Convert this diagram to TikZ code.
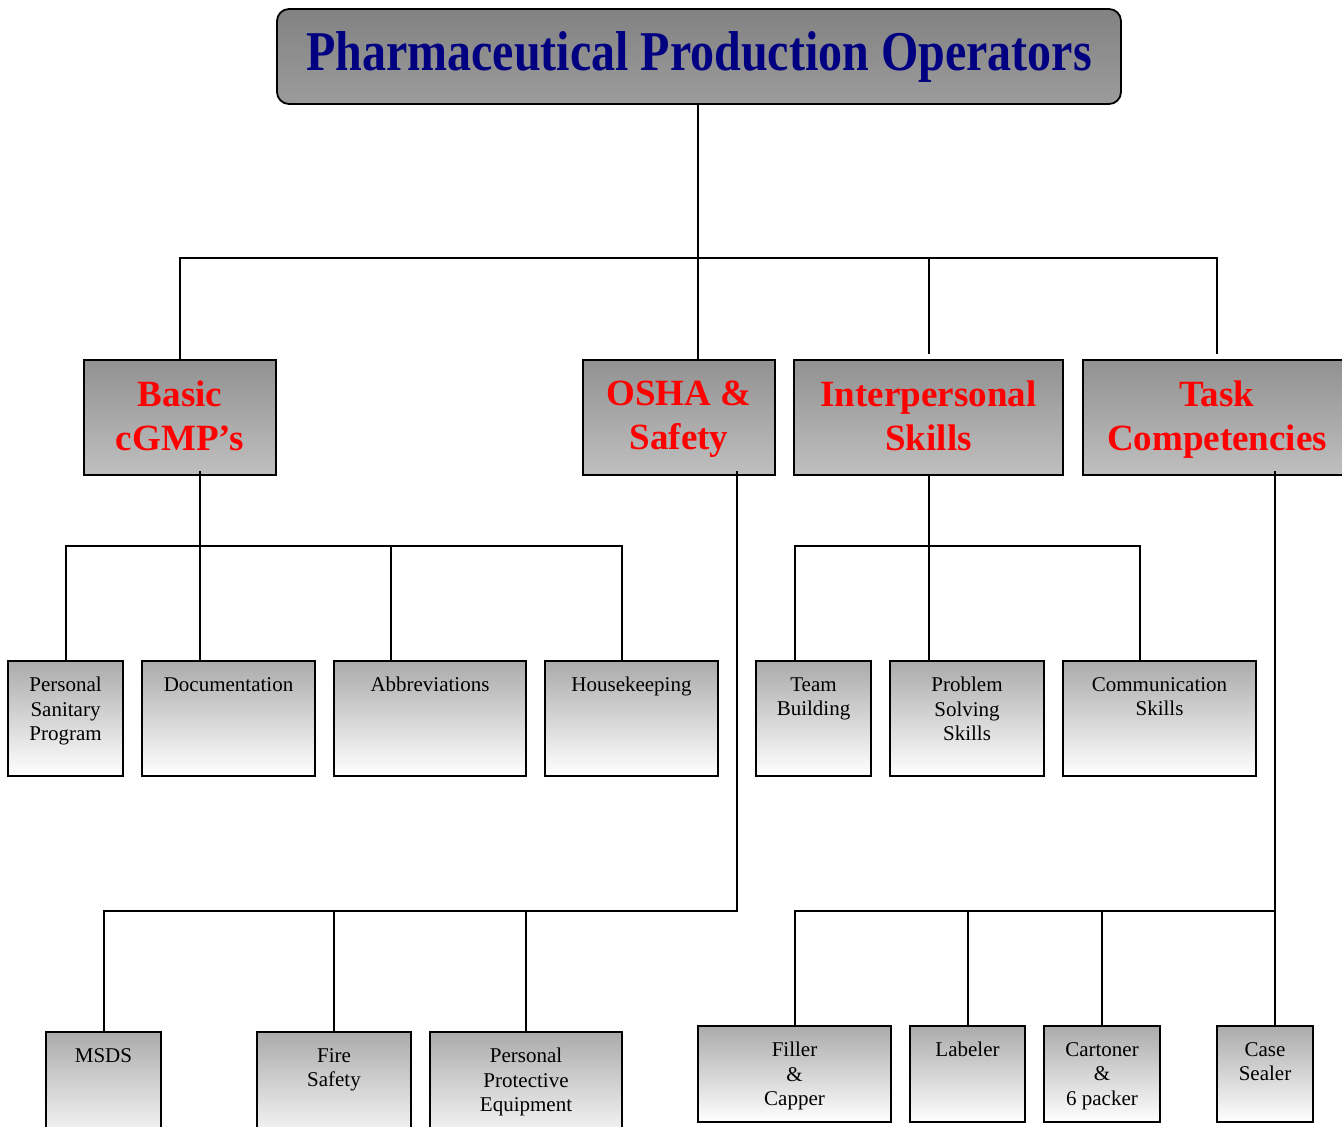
\documentclass[tikz,border=0pt]{standalone}
\usepackage{graphicx}
\usepackage{fontspec}
\setmainfont{Liberation Serif}
\usetikzlibrary{positioning}

\definecolor{titleblue}{RGB}{0,0,128}

\tikzset{
	conn/.style={line width=2pt},
	titlebox/.style={draw, line width=1.8pt, rounded corners=12pt,
		top color=black!49, bottom color=black!39,
		minimum width=844pt, minimum height=95pt, inner sep=0pt,
		text=titleblue, font=\bfseries\fontsize{48}{56}\selectfont},
	groupbox/.style={draw, line width=1.8pt,
		top color=black!43, bottom color=black!25,
		minimum height=115pt, inner sep=0pt},
	grouptext/.style={anchor=north, yshift=-22pt, inner sep=0pt, align=center,
		text=red, font=\bfseries\fontsize{37}{44}\selectfont},
	leafbox/.style={draw, line width=1.8pt,
		top color=black!33, bottom color=white, inner sep=0pt},
	leaftext/.style={anchor=north, yshift=-17pt, inner sep=0pt, align=center,
		font=\fontsize{21}{24.5}\selectfont}
}

\begin{document}
\begin{tikzpicture}[x=1pt,y=-1pt]
	\clip (0,0) rectangle (1342,1127);

	% title
	\node (title) [titlebox] at (699,56.5) {\scalebox{1}[1.17]{Pharmaceutical Production Operators}};

	% groups
	\node (basic) [groupbox, minimum width=192pt] at ( 180  ,417.5) {};
	\node (osha)  [groupbox, minimum width=192pt] at ( 679  ,417.5) {};
	\node (inter) [groupbox, minimum width=269pt] at ( 928.5,417.5) {};
	\node (task)  [groupbox, minimum width=268pt] at (1217  ,417.5) {};

	\node (basic-t) [grouptext] at (basic.north) {Basic\\cGMP’s};
	\node (osha-t)  [grouptext] at (osha.north)  {OSHA \&\\Safety};
	\node (inter-t) [grouptext] at (inter.north) {Interpersonal\\Skills};
	\node (task-t)  [grouptext] at (task.north)  {Task\\Competencies};

	% leaves under basic and interpersonal
	\node (psp)   [leafbox, minimum width=115pt, minimum height=115pt] at (  65.5,718.5) {};
	\node (doc)   [leafbox, minimum width=173pt, minimum height=115pt] at ( 228.5,718.5) {};
	\node (abbr)  [leafbox, minimum width=192pt, minimum height=115pt] at ( 430  ,718.5) {};
	\node (house) [leafbox, minimum width=173pt, minimum height=115pt] at ( 631.5,718.5) {};
	\node (team)  [leafbox, minimum width=115pt, minimum height=115pt] at ( 813.5,718.5) {};
	\node (prob)  [leafbox, minimum width=154pt, minimum height=115pt] at ( 967  ,718.5) {};
	\node (comm)  [leafbox, minimum width=193pt, minimum height=115pt] at (1159.5,718.5) {};

	% leaves under osha
	\node (msds)  [leafbox, minimum width=115pt, minimum height=115pt] at ( 103.5,1089.5) {};
	\node (fire)  [leafbox, minimum width=154pt, minimum height=115pt] at ( 334  ,1089.5) {};
	\node (ppe)   [leafbox, minimum width=192pt, minimum height=115pt] at ( 526  ,1089.5) {};

	% leaves under task
	\node (filler)  [leafbox, minimum width=193pt, minimum height=96pt] at ( 794.5,1074) {};
	\node (labeler) [leafbox, minimum width=115pt, minimum height=96pt] at ( 967.5,1074) {};
	\node (carton)  [leafbox, minimum width=116pt, minimum height=96pt] at (1102  ,1074) {};
	\node (sealer)  [leafbox, minimum width= 96pt, minimum height=96pt] at (1265  ,1074) {};

	% leaf texts
	\node (psp-t)     [leaftext] at (psp.north)     {Personal\\Sanitary\\Program};
	\node (doc-t)     [leaftext] at (doc.north)     {Documentation};
	\node (abbr-t)    [leaftext] at (abbr.north)    {Abbreviations};
	\node (house-t)   [leaftext] at (house.north)   {Housekeeping};
	\node (team-t)    [leaftext] at (team.north)    {Team\\Building};
	\node (prob-t)    [leaftext] at (prob.north)    {Problem\\Solving\\Skills};
	\node (comm-t)    [leaftext] at (comm.north)    {Communication\\Skills};
	\node (msds-t)    [leaftext] at (msds.north)    {MSDS};
	\node (fire-t)    [leaftext] at (fire.north)    {Fire\\Safety};
	\node (ppe-t)     [leaftext] at (ppe.north)     {Personal\\Protective\\Equipment};
	\node (filler-t)  [leaftext] at (filler.north)  {Filler\\\&\\Capper};
	\node (labeler-t) [leaftext] at (labeler.north) {Labeler};
	\node (carton-t)  [leaftext] at (carton.north)  {Cartoner\\\&\\6 packer};
	\node (sealer-t)  [leaftext] at (sealer.north)  {Case\\Sealer};

	% bus points
	\coordinate (topbus) at ( 698, 258);
	\coordinate (b1)     at ( 200, 546);
	\coordinate (b2)     at ( 391, 546);
	\coordinate (b3)     at ( 622, 546);
	\coordinate (i1)     at ( 795, 546);
	\coordinate (i2)     at (1140, 546);
	\coordinate (o1)     at ( 737, 911);
	\coordinate (t1)     at (1275, 911);

	% title to groups
	\draw[conn] (title.south -| topbus) -- (topbus);
	\draw[conn] (basic.north) |- (topbus) -| ([yshift=5pt]task.north);
	\draw[conn] (topbus) -- (topbus |- osha.north);
	\draw[conn] (inter.north |- topbus) -- ([yshift=5pt]inter.north);

	% basic
	\draw[conn] ([yshift=5pt]basic.south -| b1) -- (b1);
	\draw[conn] (psp.north) |- (b3) -- (b3 |- house.north);
	\draw[conn] (b1) -- (b1 |- doc.north);
	\draw[conn] (b2) -- (b2 |- abbr.north);

	% interpersonal
	\draw[conn] (inter.south) -- (inter.south |- prob.north);
	\draw[conn] (i1 |- team.north) |- (i2) -- (i2 |- comm.north);

	% osha
	\draw[conn] ([yshift=5pt]osha.south -| o1) -- (o1) -| (msds.north);
	\draw[conn] (fire.north) -- (fire.north |- o1);
	\draw[conn] (ppe.north) -- (ppe.north |- o1);

	% task
	\draw[conn] ([yshift=5pt]task.south -| t1) -- (t1 |- sealer.north);
	\draw[conn] (t1) -| (filler.north);
	\draw[conn] (labeler.north) -- (labeler.north |- t1);
	\draw[conn] (carton.north) -- (carton.north |- t1);
\end{tikzpicture}
\end{document}
